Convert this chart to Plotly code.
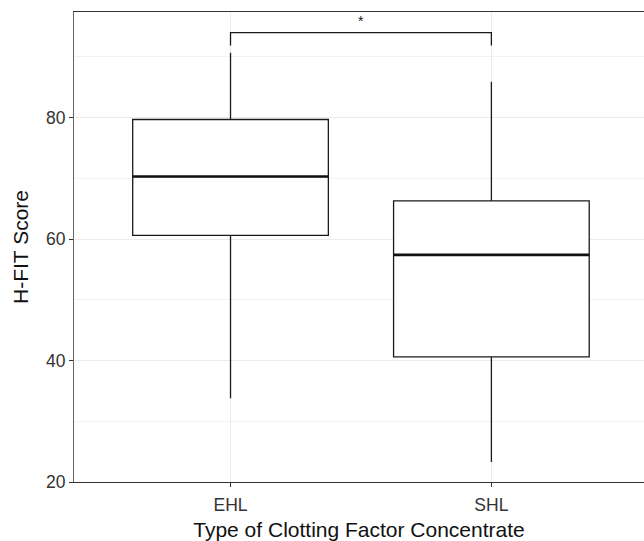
import plotly.graph_objects as go

# Data
categories = ["EHL", "SHL"]
q1_vals = [60.6, 40.6]
median_vals = [70.3, 57.4]
q3_vals = [79.7, 66.3]
lower_whisker = [33.8, 23.3]
upper_whisker = [90.7, 85.9]
bracket_y = 94.0
bracket_tip_y = 91.9
star_y = 96.0
sig_label = "*"

box_width = 0.75
font_family = "Liberation Sans, Arial, sans-serif"

fig = go.Figure()

for i, cat in enumerate(categories):
    fig.add_trace(go.Box(
        x=[i], q1=[q1_vals[i]], median=[median_vals[i]], q3=[q3_vals[i]],
        lowerfence=[lower_whisker[i]], upperfence=[upper_whisker[i]],
        width=box_width, whiskerwidth=0, boxpoints=False,
        fillcolor="white", line=dict(color="#1a1a1a", width=1.3),
        showlegend=False, hoverinfo="skip",
    ))
    # thicker median line (ggplot fatten)
    fig.add_trace(go.Scatter(
        x=[i - box_width / 2, i + box_width / 2],
        y=[median_vals[i], median_vals[i]],
        mode="lines", line=dict(color="#111111", width=2.6),
        showlegend=False, hoverinfo="skip",
    ))

# significance bracket
fig.add_trace(go.Scatter(
    x=[0, 0, 1, 1],
    y=[bracket_tip_y, bracket_y, bracket_y, bracket_tip_y],
    mode="lines", line=dict(color="#1a1a1a", width=1.3),
    showlegend=False, hoverinfo="skip",
))
fig.add_annotation(x=0.5, y=star_y, text=sig_label, showarrow=False,
                   font=dict(size=14, color="#1a1a1a", family=font_family))

fig.update_layout(
    width=644, height=541,
    margin=dict(l=74, r=0, t=12, b=59),
    plot_bgcolor="white", paper_bgcolor="white",
    font=dict(family=font_family),
    boxmode="overlay",
)
fig.update_xaxes(
    range=[-0.6, 1.585],
    tickmode="array", tickvals=[0, 1], ticktext=categories,
    showgrid=True, gridcolor="#ebebeb", gridwidth=1,
    showline=True, linecolor="#333333", linewidth=1.2, mirror=True,
    ticks="outside", ticklen=4, tickcolor="#333333",
    ticklabelstandoff=3,
    tickfont=dict(size=17.5, color="#333333"),
    title=dict(text="Type of Clotting Factor Concentrate",
               font=dict(size=21, color="#111111"), standoff=12),
    zeroline=False,
)
fig.update_yaxes(
    range=[20, 97.4],
    tickvals=[20, 40, 60, 80],
    showgrid=True, gridcolor="#ebebeb", gridwidth=1,
    minor=dict(tickvals=[30, 50, 70, 90], showgrid=True,
               gridcolor="#f2f2f2", gridwidth=0.6),
    showline=True, linecolor="#666666", linewidth=1.2,
    ticks="outside", ticklen=4, tickcolor="#333333",
    tickfont=dict(size=17.5, color="#333333"),
    title=dict(text="H-FIT Score", font=dict(size=21, color="#111111"),
               standoff=11),
    zeroline=False,
)

fig.write_html("out.html")
